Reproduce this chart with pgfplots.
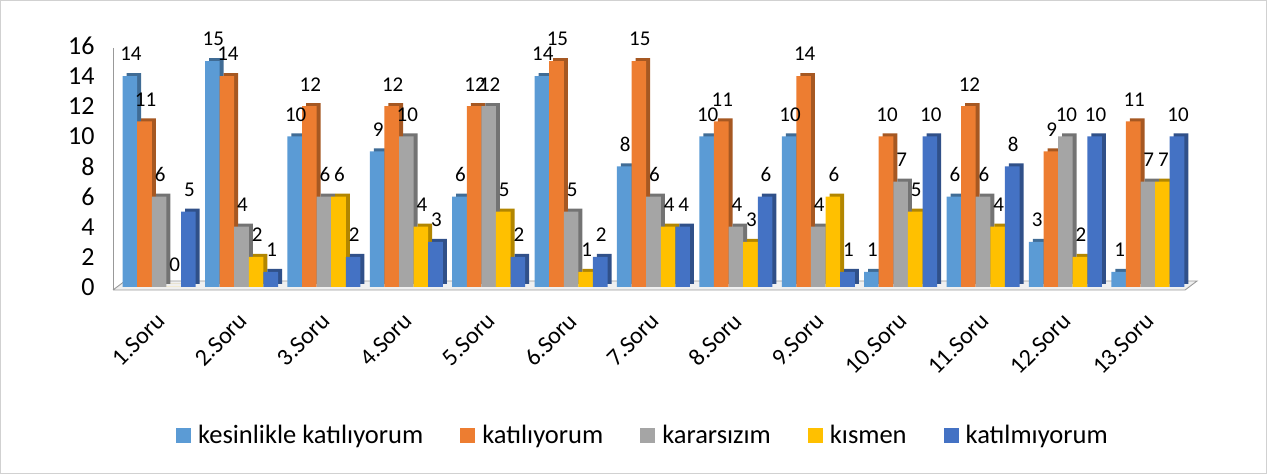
\documentclass[border=0pt]{standalone}
\usepackage{pgfplots}
\pgfplotsset{compat=1.18}
\usepackage{pgfplotstable}
\usepackage{fontspec}
\setmainfont{Carlito}
\definecolor{c1}{HTML}{5B9BD5}
\definecolor{c2}{HTML}{ED7D31}
\definecolor{c3}{HTML}{A5A5A5}
\definecolor{c4}{HTML}{FFC000}
\definecolor{c5}{HTML}{4472C4}
\pgfplotstableread{
x a b c d e
0 14 11 6 0 5
1 15 14 4 2 1
2 10 12 6 6 2
3 9 12 10 4 3
4 6 12 12 5 2
5 14 15 5 1 2
6 8 15 6 4 4
7 10 11 4 3 6
8 10 14 4 6 1
9 1 10 7 5 10
10 6 12 6 4 8
11 3 9 10 2 10
12 1 11 7 7 10
}\data
\begin{document}
\begin{tikzpicture}[x=1pt,y=1pt]
\useasboundingbox (0,0) rectangle (1267,474);
\draw[black!18] (0.5,0.5) rectangle (1266.5,473.5);
\fill[black!6] (113,184) -- (1185,184) -- (1197,193) -- (125,193) -- cycle;
\draw[black!40, line width=0.9pt] (113,184) -- (1185,184) -- (1197,193) -- (125,193) -- (113,184);
\draw[black!40, line width=0.9pt] (113,426) -- (113,184);
\begin{axis}[
  at={(113pt,187pt)}, anchor=south west,
  scale only axis, width=1076pt, height=241pt,
  xmin=-0.56, xmax=12.5, ymin=0, ymax=16,
  clip=false,
  axis x line*=bottom, axis y line*=left,
  axis line style={draw=none}, tick style={draw=none},
  ybar, bar width=14.6pt,
  ytick={0,2,...,16},
  xtick={0,...,12},
  xticklabels={1.Soru,2.Soru,3.Soru,4.Soru,5.Soru,6.Soru,7.Soru,8.Soru,9.Soru,10.Soru,11.Soru,12.Soru,13.Soru},
  /pgf/number format/assume math mode=true,
  yticklabel style={font=\fontsize{26}{30}\selectfont, xshift=-15pt},
  xticklabel style={font=\fontsize{24}{28}\selectfont, inner sep=0pt, yshift=-26pt, xshift=2pt, rotate=45, anchor=east},
  every node near coord/.append style={font=\fontsize{21}{25}\selectfont, anchor=south, inner sep=0pt, yshift=15pt, xshift=1pt},
  legend columns=5,
  legend style={at={(0.4916,-0.616)}, anchor=center, draw=none, fill=none,
    font=\fontsize{26.5}{30}\selectfont,
    nodes={inner sep=0pt},
    /tikz/every odd column/.append style={column sep=7pt},
    /tikz/every even column/.append style={column sep=37pt}},
  legend image code/.code={\fill[#1] (0pt,-7.5pt) rectangle (15pt,7.5pt);},
]
\addplot[fill=c1!70!black, draw=none, bar shift=-29.2pt, xshift=4pt, yshift=3pt, forget plot] table[x=x,y=a]{\data};
\addplot[fill=c1, draw=none, bar shift=-29.2pt, nodes near coords] table[x=x,y=a]{\data};
\addplot[fill=c2!70!black, draw=none, bar shift=-14.6pt, xshift=4pt, yshift=3pt, forget plot] table[x=x,y=b]{\data};
\addplot[fill=c2, draw=none, bar shift=-14.6pt, nodes near coords] table[x=x,y=b]{\data};
\addplot[fill=c3!70!black, draw=none, bar shift=0pt, xshift=4pt, yshift=3pt, forget plot] table[x=x,y=c]{\data};
\addplot[fill=c3, draw=none, bar shift=0pt, nodes near coords] table[x=x,y=c]{\data};
\addplot[fill=c4!70!black, draw=none, bar shift=14.6pt, xshift=4pt, yshift=3pt, forget plot] table[x=x,y=d]{\data};
\addplot[fill=c4, draw=none, bar shift=14.6pt, nodes near coords] table[x=x,y=d]{\data};
\addplot[fill=c5!70!black, draw=none, bar shift=29.2pt, xshift=4pt, yshift=3pt, forget plot] table[x=x,y=e]{\data};
\addplot[fill=c5, draw=none, bar shift=29.2pt, nodes near coords] table[x=x,y=e]{\data};
\legend{kesinlikle katılıyorum, katılıyorum, kararsızım, kısmen, katılmıyorum}
\end{axis}
\end{tikzpicture}
\end{document}
